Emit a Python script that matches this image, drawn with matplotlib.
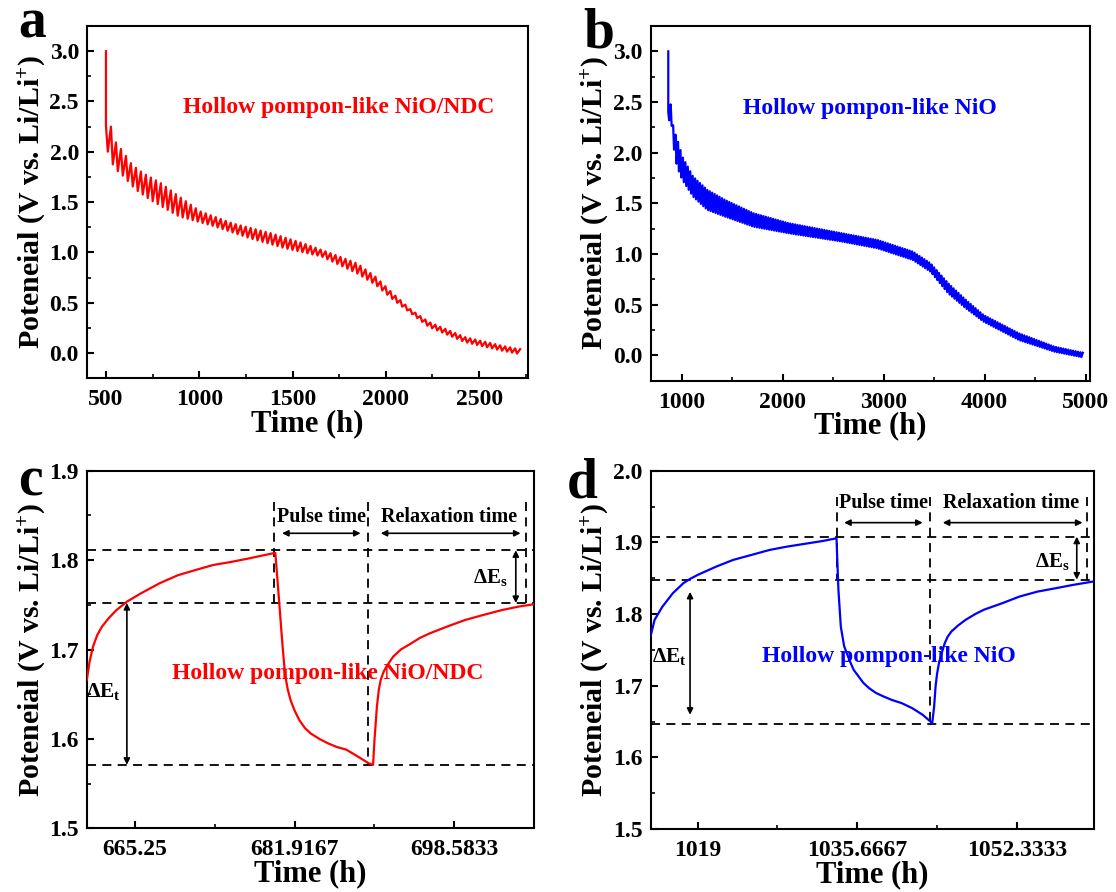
import numpy as np
import matplotlib
matplotlib.use("Agg")
import matplotlib.pyplot as plt
from matplotlib.ticker import MultipleLocator, FixedLocator, FormatStrFormatter

plt.rcParams['font.family'] = ['Liberation Serif', 'DejaVu Serif']
plt.rcParams['font.weight'] = 'bold'
plt.rcParams['mathtext.fontset'] = 'custom'
plt.rcParams['mathtext.rm'] = 'Liberation Serif:bold'
plt.rcParams['mathtext.it'] = 'Liberation Serif:bold'
plt.rcParams['mathtext.bf'] = 'Liberation Serif:bold'
plt.rcParams['axes.linewidth'] = 1.5

# ---------------- data ----------------
# Panel a (NiO/NDC, full GITT) - envelope readings
a_start_t, a_start_v = 500, 3.0
a_end_t = 2720
a_cycles = 83
a_up_t = [525, 554, 592, 640, 697, 793, 889, 1004, 1177, 1388, 1560, 1752, 1848, 1944, 2040, 2136, 2231, 2423, 2615, 2711]
a_up_v = [2.26, 2.09, 2.00, 1.87, 1.79, 1.69, 1.56, 1.41, 1.29, 1.19, 1.09, 0.96, 0.89, 0.76, 0.59, 0.43, 0.31, 0.16, 0.077, 0.04]
a_lo_t = [506, 544, 592, 659, 736, 889, 1081, 1273, 1464, 1656, 1848, 1944, 2040, 2231, 2423, 2615, 2711]
a_lo_v = [2.02, 1.84, 1.76, 1.625, 1.525, 1.36, 1.26, 1.14, 1.04, 0.96, 0.79, 0.68, 0.53, 0.26, 0.11, 0.027, -0.007]

# Panel b (NiO, full GITT) - envelope readings
b_start_t, b_start_v = 867, 3.0
b_end_t = 4972
b_cycles = 170
b_up_t = [870, 895, 919, 954, 1007, 1112, 1253, 1428, 1709, 2060, 2586, 2937, 3288, 3463, 3639, 3814, 3989, 4340, 4691, 4972]
b_up_v = [2.40, 2.49, 2.23, 2.14, 1.96, 1.765, 1.633, 1.534, 1.403, 1.304, 1.205, 1.139, 1.024, 0.909, 0.711, 0.547, 0.398, 0.217, 0.086, 0.026]
b_lo_t = [895, 919, 954, 1007, 1112, 1253, 1428, 1709, 2060, 2586, 2937, 3288, 3463, 3639, 3814, 3989, 4340, 4691, 4972]
b_lo_v = [2.32, 2.06, 1.86, 1.73, 1.567, 1.436, 1.37, 1.27, 1.205, 1.123, 1.057, 0.942, 0.826, 0.612, 0.464, 0.333, 0.151, 0.036, -0.02]
pulse_fraction = 0.37

# Panel c (NiO/NDC, one GITT step)
c_t = [660.22, 660.5, 660.86, 661.3, 661.8, 662.5, 663.3, 664.4, 665.9, 667.8, 669.7, 671.6, 673.4, 675.3,
       677.2, 678.5, 679.6, 679.9,
       680.2, 680.6, 680.9, 681.2, 681.5, 681.9, 682.4, 683.0, 683.6, 684.5, 685.4, 686.3, 687.3, 688.4,
       689.6, 690.1,
       690.25, 690.5, 690.7, 690.9, 691.2, 691.5, 692.2, 693.0, 694.1, 695.0, 696.0, 697.8, 699.7, 701.6,
       703.5, 705.3, 706.8]
c_v = [1.666, 1.686, 1.703, 1.716, 1.7255, 1.735, 1.744, 1.7535, 1.763, 1.774, 1.783, 1.789, 1.7945, 1.798,
       1.802, 1.805, 1.8075, 1.808,
       1.767, 1.711, 1.673, 1.655, 1.643, 1.632, 1.621, 1.612, 1.606, 1.600, 1.595, 1.591, 1.588, 1.581,
       1.573, 1.571,
       1.599, 1.636, 1.655, 1.666, 1.675, 1.681, 1.692, 1.700, 1.707, 1.713, 1.718, 1.7255, 1.733, 1.7386,
       1.744, 1.748, 1.7505]
c_levels = [1.811, 1.752, 1.571]
c_marks = [679.74, 689.6, 706.1]

# Panel d (NiO, one GITT step)
d_t = [1014.07, 1014.5, 1015.3, 1016.4, 1017.5, 1018.2, 1019.0, 1020.9, 1022.7, 1024.6, 1026.5, 1028.3,
       1030.2, 1032.1, 1033.5,
       1033.7, 1033.95, 1034.3, 1034.9, 1035.3, 1035.8, 1036.3, 1036.9, 1037.6, 1038.4, 1039.3, 1040.3,
       1041.4, 1042.5, 1043.5,
       1043.7, 1043.85, 1044.0, 1044.2, 1044.5, 1044.8, 1045.1, 1045.5, 1046.2, 1047.0, 1048.0, 1048.9,
       1050.8, 1052.6, 1054.5, 1056.4, 1058.2, 1060.3]
d_v = [1.7686, 1.792, 1.810, 1.829, 1.843, 1.849, 1.8546, 1.866, 1.8755, 1.8824, 1.8894, 1.894,
       1.898, 1.902, 1.9057,
       1.834, 1.7825, 1.755, 1.734, 1.722, 1.713, 1.704, 1.6966, 1.690, 1.685, 1.680, 1.6757,
       1.6687, 1.6594, 1.6478,
       1.671, 1.699, 1.716, 1.7314, 1.746, 1.759, 1.768, 1.7756, 1.784, 1.792, 1.800, 1.806,
       1.815, 1.8243, 1.8313, 1.836, 1.8406, 1.8453]
d_levels = [1.908, 1.848, 1.647]
d_marks = [1033.6, 1043.3, 1059.7]

c_ticks = [665.25, 681.9167, 698.5833]
c_tick_labels = ['665.25', '681.9167', '698.5833']
d_ticks = [1019, 1035.6667, 1052.3333]
d_tick_labels = ['1019', '1035.6667', '1052.3333']

RED = '#ff0000'
BLUE = '#0000ff'


def gitt_trace(t0, v0, t1, n, up_t, up_v, lo_t, lo_v, frac):
    starts = np.linspace(t0, t1, n + 1)
    ts = [t0]
    vs = [v0]
    for k in range(n):
        ts.append(starts[k]); vs.append(np.interp(starts[k], up_t, up_v))
        te = starts[k] + frac * (starts[k + 1] - starts[k])
        ts.append(te); vs.append(np.interp(te, lo_t, lo_v))
    ts.append(t1); vs.append(np.interp(t1, up_t, up_v))
    return np.array(ts), np.array(vs)


W, H = 1116, 892
fig = plt.figure(figsize=(W / 100, H / 100), dpi=100)


def box(l, t, r, b):
    return [l / W, 1 - b / H, (r - l) / W, (b - t) / H]


ax_a = fig.add_axes(box(87.3, 26, 527.6, 378.3))
ax_b = fig.add_axes(box(650.7, 26, 1089.9, 380.7))
ax_c = fig.add_axes(box(87.3, 470.7, 534, 828.3))
ax_d = fig.add_axes(box(650.7, 470.7, 1094, 829))

ylab = 'Poteneial (V vs. Li/Li$^{+}$)'


def style(ax):
    ax.tick_params(which='both', direction='in', top=False, right=False, labelsize=17)
    ax.tick_params(axis='x', pad=8)
    ax.tick_params(axis='y', pad=6)
    ax.tick_params(which='major', length=5, width=1.5)
    ax.tick_params(which='minor', length=3, width=1.2)
    for lab in ax.get_xticklabels() + ax.get_yticklabels():
        lab.set_fontweight('bold')
    ax.set_xlabel('Time (h)', fontsize=22, fontweight='bold', labelpad=-1)
    ax.set_ylabel(ylab, fontsize=21.5, fontweight='bold', labelpad=1)


# Panel a
ta, va = gitt_trace(a_start_t, a_start_v, a_end_t, a_cycles, a_up_t, a_up_v, a_lo_t, a_lo_v, pulse_fraction)
ax_a.plot(ta, va, color=RED, lw=1.6)
ax_a.set_xlim(400, 2760)
ax_a.set_ylim(-0.25, 3.25)
ax_a.xaxis.set_major_locator(MultipleLocator(500))
ax_a.xaxis.set_minor_locator(MultipleLocator(250))
ax_a.yaxis.set_major_locator(MultipleLocator(0.5))
ax_a.yaxis.set_minor_locator(MultipleLocator(0.25))
ax_a.yaxis.set_major_formatter(FormatStrFormatter('%.1f'))
style(ax_a)
ax_a.text(1748, 2.44, 'Hollow pompon-like NiO/NDC', color=RED, fontsize=17, fontweight='bold',
          ha='center', va='center')

# Panel b
tb, vb = gitt_trace(b_start_t, b_start_v, b_end_t, b_cycles, b_up_t, b_up_v, b_lo_t, b_lo_v, pulse_fraction)
ax_b.plot(tb, vb, color=BLUE, lw=1.6)
ax_b.set_xlim(693, 5042)
ax_b.set_ylim(-0.25, 3.25)
ax_b.xaxis.set_major_locator(MultipleLocator(1000))
ax_b.xaxis.set_minor_locator(MultipleLocator(500))
ax_b.yaxis.set_major_locator(MultipleLocator(0.5))
ax_b.yaxis.set_minor_locator(MultipleLocator(0.25))
ax_b.yaxis.set_major_formatter(FormatStrFormatter('%.1f'))
style(ax_b)
ax_b.text(2866, 2.44, 'Hollow pompon-like NiO', color=BLUE, fontsize=17, fontweight='bold',
          ha='center', va='center')


def detail(ax, t, v, color, levels, marks, ticks, tick_labels, xlim, ylim, label, label_xy,
           top_y, arrow_y, pulse_x, relax_x, pulse_txt, relax_txt, txt_y,
           es_x, es_txt, et_x, et_ends, et_txt):
    ax.plot(t, v, color=color, lw=1.6, zorder=3)
    dash = dict(color='black', lw=1.3, linestyle=(0, (5, 3.5)), zorder=2)
    for lv in levels:
        ax.plot(xlim, [lv, lv], **dash)
    ax.plot([marks[0], marks[0]], [top_y, levels[1]], **dash)
    ax.plot([marks[1], marks[1]], [top_y, levels[2]], **dash)
    ax.plot([marks[2], marks[2]], [top_y, levels[1]], **dash)
    ap = dict(arrowstyle='<|-|>', color='black', lw=1.2, mutation_scale=9, shrinkA=0, shrinkB=0)
    ax.annotate('', xy=(pulse_x[0], arrow_y), xytext=(pulse_x[1], arrow_y), arrowprops=ap)
    ax.annotate('', xy=(relax_x[0], arrow_y), xytext=(relax_x[1], arrow_y), arrowprops=ap)
    ax.annotate('', xy=(es_x, levels[0]), xytext=(es_x, levels[1]), arrowprops=ap)
    ax.annotate('', xy=(et_x, et_ends[0]), xytext=(et_x, et_ends[1]), arrowprops=ap)
    ax.text(pulse_txt, txt_y, 'Pulse time', fontsize=14.5, fontweight='bold', ha='center', va='center')
    ax.text(relax_txt, txt_y, 'Relaxation time', fontsize=14.5, fontweight='bold', ha='center', va='center')
    ax.text(es_txt[0], es_txt[1], r'$\Delta$E$_\mathrm{s}$', fontsize=15, ha='center', va='center')
    ax.text(et_txt[0], et_txt[1], r'$\Delta$E$_\mathrm{t}$', fontsize=15.5, ha='center', va='center')
    ax.text(label_xy[0], label_xy[1], label, color=color, fontsize=17, fontweight='bold',
            ha='center', va='center', zorder=4)
    ax.set_xlim(*xlim)
    ax.set_ylim(*ylim)
    ax.xaxis.set_major_locator(FixedLocator(ticks))
    ax.set_xticklabels(tick_labels)
    ax.xaxis.set_minor_locator(FixedLocator([(ticks[0] + ticks[1]) / 2, (ticks[1] + ticks[2]) / 2]))
    ax.yaxis.set_major_locator(MultipleLocator(0.1))
    ax.yaxis.set_minor_locator(MultipleLocator(0.05))
    ax.yaxis.set_major_formatter(FormatStrFormatter('%.1f'))
    style(ax)


detail(ax_c, c_t, c_v, RED, c_levels, c_marks, c_ticks, c_tick_labels, (660.27, 706.9), (1.5, 1.9),
       'Hollow pompon-like NiO/NDC', (685.4, 1.673),
       1.865, 1.83, (680.6, 688.8), (690.9, 705.5), 684.7, 698.0, 1.8486,
       705.0, (702.3, 1.78), 664.4, (1.752, 1.571), (662.0, 1.653))

detail(ax_d, d_t, d_v, BLUE, d_levels, d_marks, d_ticks, d_tick_labels, (1014.09, 1060.4), (1.5, 2.0),
       'Hollow pompon-like NiO', (1039.0, 1.7407),
       1.9638, 1.9275, (1034.3, 1042.5), (1044.6, 1059.2), 1038.4, 1051.7, 1.9545,
       1058.6, (1056.0, 1.873), 1018.2, (1.831, 1.6594), (1016.0, 1.7407))

fig.text(18 / W, 1 - 38 / H, 'a', fontsize=40, fontweight='bold', ha='left', va='baseline')
fig.text(583 / W, 1 - 48 / H, 'b', fontsize=40, fontweight='bold', ha='left', va='baseline')
fig.text(18 / W, 1 - 495 / H, 'c', fontsize=40, fontweight='bold', ha='left', va='baseline')
fig.text(567 / W, 1 - 497 / H, 'd', fontsize=40, fontweight='bold', ha='left', va='baseline')

fig.savefig('out.png', dpi=100)
